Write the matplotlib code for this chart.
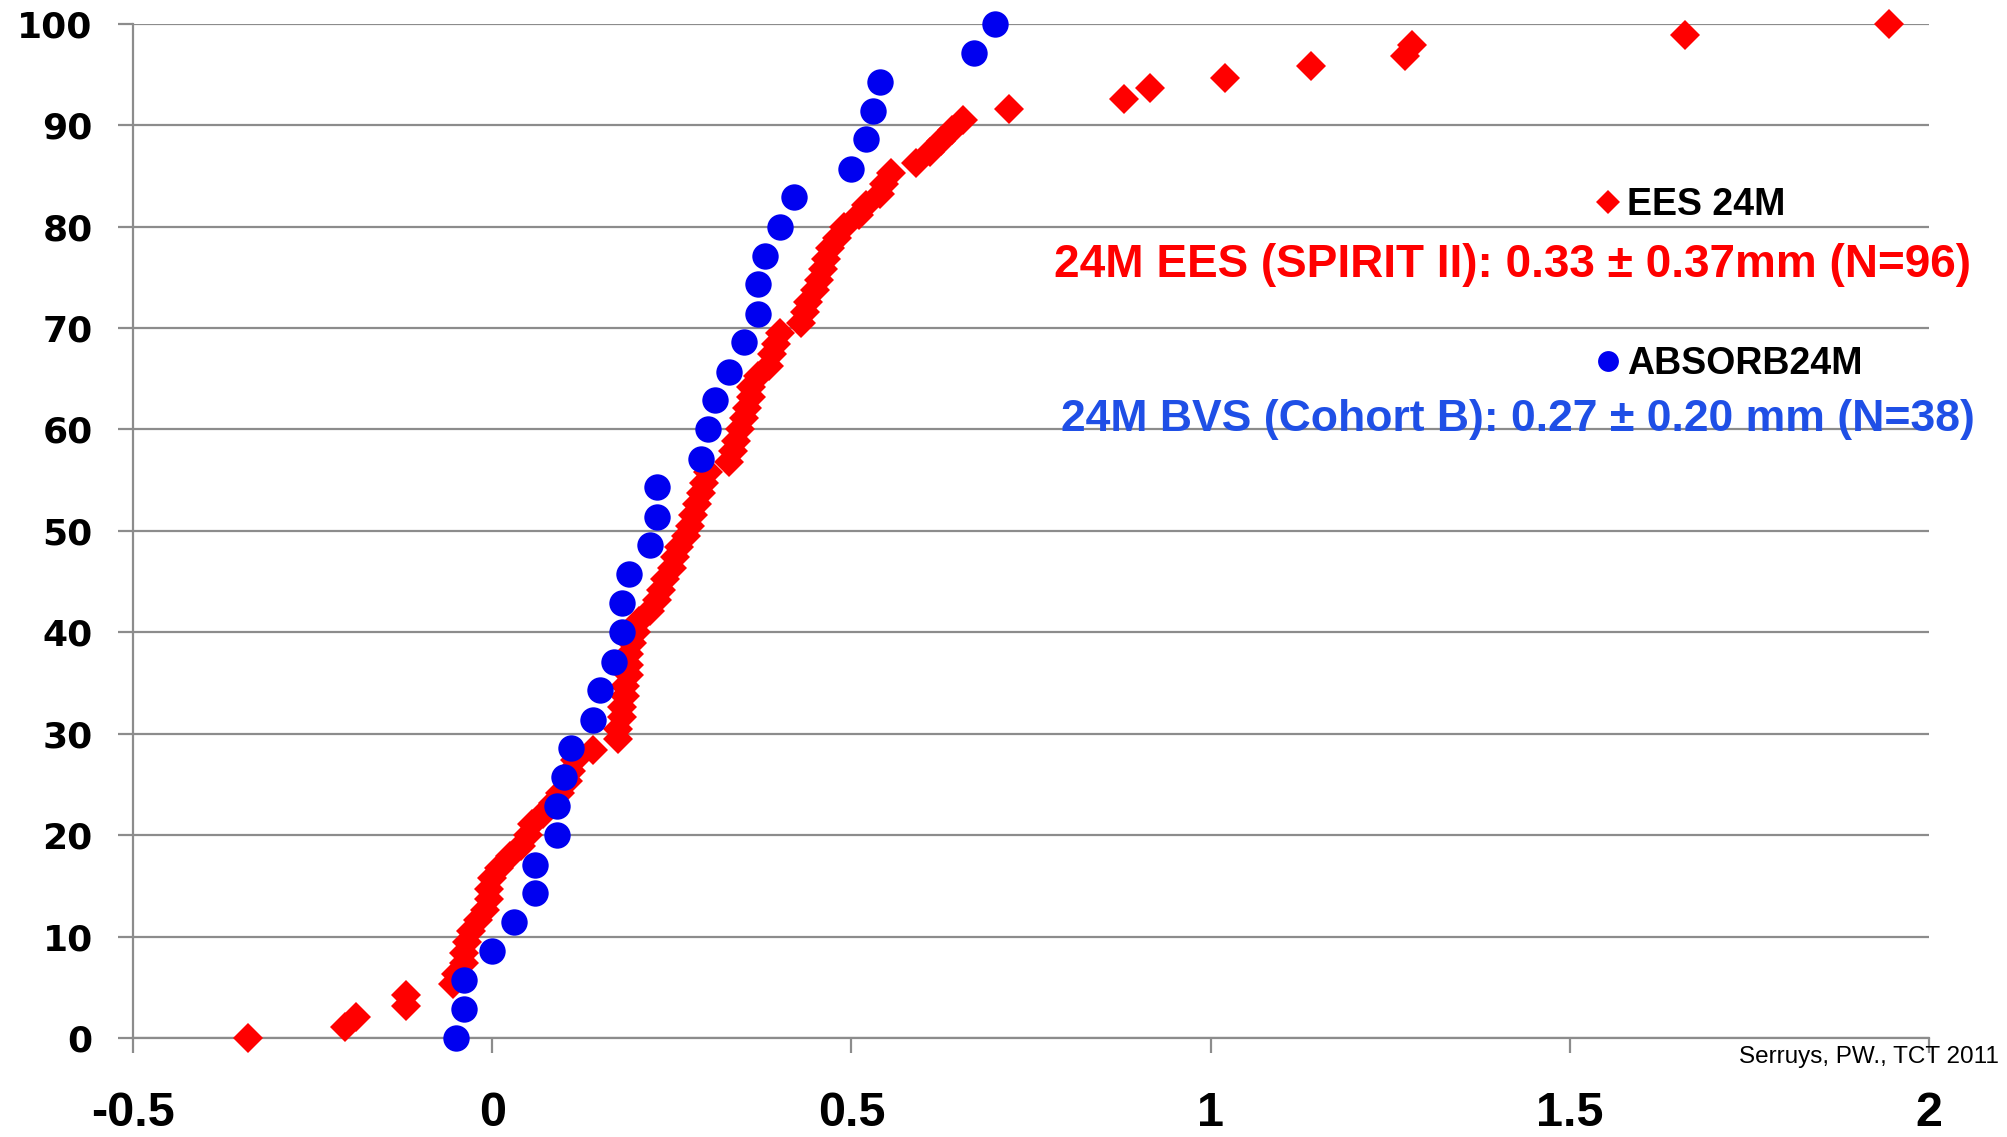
import matplotlib
matplotlib.use('Agg')

from matplotlib import pyplot as plt
from matplotlib.lines import Line2D

# EES 24M (SPIRIT II) - late loss (mm) vs cumulative %
ees_x = [-0.34, -0.205, -0.19, -0.12, -0.12, -0.055, -0.05, -0.04, -0.04, -0.035,
         -0.03, -0.02, -0.01, -0.005, -0.005, 0.0, 0.01, 0.025, 0.04, 0.05,
         0.055, 0.07, 0.085, 0.095, 0.105, 0.11, 0.115, 0.14, 0.175, 0.175,
         0.18, 0.18, 0.185, 0.185, 0.19, 0.19, 0.19, 0.195, 0.20, 0.205,
         0.22, 0.23, 0.235, 0.24, 0.25, 0.255, 0.26, 0.27, 0.275, 0.28,
         0.285, 0.29, 0.295, 0.30, 0.33, 0.335, 0.34, 0.345, 0.35, 0.355,
         0.36, 0.36, 0.37, 0.385, 0.39, 0.395, 0.40, 0.43, 0.435, 0.44,
         0.45, 0.455, 0.46, 0.465, 0.47, 0.48, 0.49, 0.51, 0.52, 0.54,
         0.545, 0.555, 0.59, 0.61, 0.625, 0.64, 0.655, 0.72, 0.88, 0.915,
         1.02, 1.14, 1.27, 1.28, 1.66, 1.945]
ees_y = [0.0, 1.1, 2.1, 3.2, 4.2, 5.3, 6.3, 7.4, 8.4, 9.5,
         10.5, 11.6, 12.6, 13.7, 14.7, 15.8, 16.8, 17.9, 18.9, 20.0,
         21.1, 22.1, 23.2, 24.2, 25.3, 26.3, 27.4, 28.4, 29.5, 30.5,
         31.6, 32.6, 33.7, 34.7, 35.8, 36.8, 37.9, 38.9, 40.0, 41.1,
         42.1, 43.2, 44.2, 45.3, 46.3, 47.4, 48.4, 49.5, 50.5, 51.6,
         52.6, 53.7, 54.7, 55.8, 56.8, 57.9, 58.9, 60.0, 61.1, 62.1,
         63.2, 64.2, 65.3, 66.3, 67.4, 68.4, 69.5, 70.5, 71.6, 72.6,
         73.7, 74.7, 75.8, 76.8, 77.9, 78.9, 80.0, 81.1, 82.1, 83.2,
         84.2, 85.3, 86.3, 87.4, 88.4, 89.5, 90.5, 91.6, 92.6, 93.7,
         94.7, 95.8, 96.8, 97.9, 98.9, 100.0]

# ABSORB 24M (Cohort B)
bvs_x = [-0.05, -0.04, -0.04, 0.0, 0.03, 0.06, 0.06, 0.09, 0.09, 0.10,
         0.11, 0.14, 0.15, 0.17, 0.18, 0.18, 0.19, 0.22, 0.23, 0.23,
         0.29, 0.30, 0.31, 0.33, 0.35, 0.37, 0.37, 0.38, 0.40, 0.42,
         0.50, 0.52, 0.53, 0.54, 0.67, 0.70]
bvs_y = [0.0, 2.9, 5.7, 8.6, 11.4, 14.3, 17.1, 20.0, 22.9, 25.7,
         28.6, 31.4, 34.3, 37.1, 40.0, 42.9, 45.7, 48.6, 51.4, 54.3,
         57.1, 60.0, 62.9, 65.7, 68.6, 71.4, 74.3, 77.1, 80.0, 82.9,
         85.7, 88.6, 91.4, 94.3, 97.1, 100.0]

x_ticks = [-0.5, 0, 0.5, 1, 1.5, 2]
x_labels = ['-0.5', '0', '0.5', '1', '1.5', '2']
y_ticks = [0, 10, 20, 30, 40, 50, 60, 70, 80, 90, 100]

RED = '#ff0000'
BLUE = '#0000f0'
GRID = '#8c8c8c'

fig = plt.figure(figsize=(20.07, 11.37), dpi=100)
ax = fig.add_axes([0.0663, 0.0871, 0.8948, 0.892])

ax.plot(ees_x, ees_y, 'D', color=RED, markersize=15, markeredgewidth=0,
        clip_on=False, zorder=3)
ax.plot(bvs_x, bvs_y, 'o', color=BLUE, markersize=19, markeredgewidth=0,
        clip_on=False, zorder=4)

ax.set_xlim(-0.5, 2)
ax.set_ylim(0, 100)
ax.set_xticks(x_ticks)
ax.set_xticklabels(x_labels)
ax.set_yticks(y_ticks)

# horizontal grid only
ax.yaxis.grid(True, color=GRID, linewidth=1.6)
ax.set_axisbelow(True)
for s in ['top', 'right']:
    ax.spines[s].set_visible(False)
for s in ['left', 'bottom']:
    ax.spines[s].set_color(GRID)
    ax.spines[s].set_linewidth(1.6)

ax.tick_params(axis='x', direction='out', length=11, width=1.6, color=GRID, pad=27)
ax.tick_params(axis='y', direction='out', length=11, width=1.6, color=GRID, pad=18)
for lbl in ax.get_xticklabels():
    lbl.set_fontfamily('Liberation Sans')
    lbl.set_fontweight('bold')
    lbl.set_fontsize(35)
for lbl in ax.get_yticklabels():
    lbl.set_fontfamily('DejaVu Sans')
    lbl.set_fontweight('bold')
    lbl.set_fontsize(26)

# legend entries, stacked with the summary lines between them
leg_font = {'family': 'Liberation Sans', 'weight': 'bold', 'size': 27}
h_ees = Line2D([], [], linestyle='none', marker='D', color=RED, markersize=12,
               markeredgewidth=0)
h_bvs = Line2D([], [], linestyle='none', marker='o', color=BLUE, markersize=15,
               markeredgewidth=0)
leg1 = ax.legend([h_ees], ['EES 24M'], loc='center left', frameon=False,
                 bbox_to_anchor=(1597 / 2007, 1 - 205 / 1137),
                 bbox_transform=fig.transFigure, prop=leg_font,
                 handlelength=0.6, handletextpad=0.2, borderpad=0, borderaxespad=0)
ax.add_artist(leg1)
ax.legend([h_bvs], ['ABSORB24M'], loc='center left', frameon=False,
          bbox_to_anchor=(1597 / 2007, 1 - 364 / 1137),
          bbox_transform=fig.transFigure, prop=leg_font,
          handlelength=0.6, handletextpad=0.2, borderpad=0, borderaxespad=0)

fig.text(1971 / 2007, 1 - 265 / 1137, '24M EES (SPIRIT II): 0.33 \u00b1 0.37mm (N=96)',
         color=RED, ha='right', va='center', family='Liberation Sans',
         fontweight='bold', fontsize=33)
fig.text(1975 / 2007, 1 - 420 / 1137, '24M BVS (Cohort B): 0.27 \u00b1 0.20 mm (N=38)',
         color='#1f4fe6', ha='right', va='center', family='Liberation Sans',
         fontweight='bold', fontsize=32)
fig.text(1999 / 2007, 1 - 1057 / 1137, 'Serruys, PW., TCT 2011',
         color='black', ha='right', va='center', family='Liberation Sans',
         fontsize=17.5)

fig.savefig('out.png', dpi=100, facecolor='white')
